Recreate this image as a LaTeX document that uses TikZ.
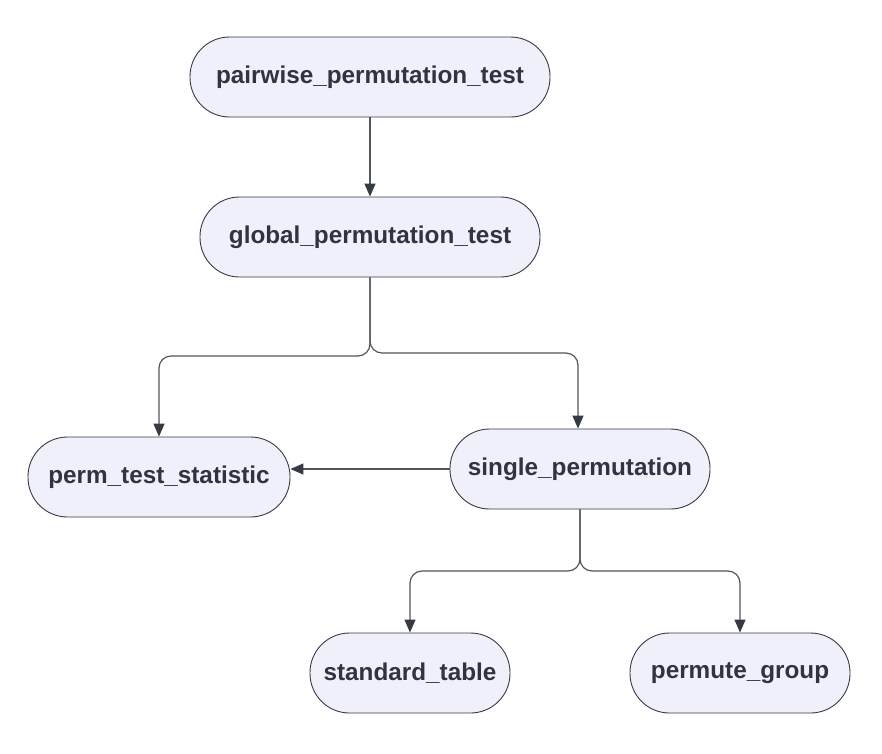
\documentclass[tikz,border=0pt]{standalone}
\usepackage{fontspec}
\setmainfont{Liberation Sans}
\usetikzlibrary{arrows.meta}
\definecolor{nodefill}{HTML}{F0F0FB}
\definecolor{nodeline}{HTML}{3A3A48}
\definecolor{txt}{HTML}{333340}
\definecolor{edgecol}{HTML}{50555C}
\definecolor{tipcol}{HTML}{363A42}
\tikzset{
  box/.style={draw=nodeline, fill=nodefill, line width=0.9pt, rounded corners=39.5pt,
    minimum height=80pt, inner sep=0pt, text=txt,
    font=\fontsize{24.3}{28}\selectfont\bfseries},
  edge/.style={draw=edgecol, line width=1.2pt, rounded corners=12pt,
    -{Triangle[length=13pt,width=11pt,color=tipcol]}}
}
\begin{document}
\begin{tikzpicture}[x=1pt,y=-1pt]
\useasboundingbox (0,0) rectangle (882,753);
\node[box, minimum width=360pt] (n1) at (370,77) {pairwise\_permutation\_test};
\node[box, minimum width=340pt] (n2) at (370,237) {global\_permutation\_test};
\node[box, minimum width=262pt] (n3) at (159,477) {perm\_test\_statistic};
\node[box, minimum width=260pt] (n4) at (580,469) {single\_permutation};
\node[box, minimum width=200pt] (n5) at (410,673) {standard\_table};
\node[box, minimum width=220pt] (n6) at (740,673) {permute\_group};
\coordinate (b1) at (370,356);
\coordinate (b2) at (370,353);
\coordinate (b3) at (580,571);
\draw[edge] (n1.south) -- (n2.north);
\draw[edge] (n2.south) -- (b1) -| (n3.north);
\draw[edge] (n2.south) -- (b2) -| ([xshift=-2pt]n4.north);
\draw[edge] (n4.west) -- (n3.east |- n4.west);
\draw[edge] (n4.south) -- (b3) -| (n5.north);
\draw[edge] (n4.south) -- (b3) -| (n6.north);
\end{tikzpicture}
\end{document}
